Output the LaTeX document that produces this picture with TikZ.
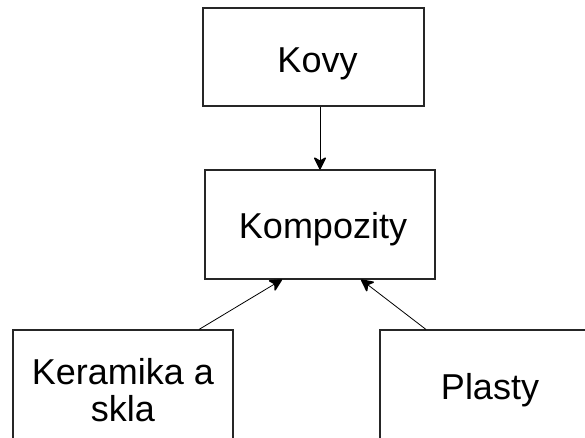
\documentclass[tikz,border=0pt]{standalone}
\usepackage{fontspec}
\setmainfont{Liberation Sans}
\usetikzlibrary{arrows.meta, positioning}

\begin{document}
\begin{tikzpicture}[x=1pt, y=-1pt,
    box/.style={rectangle, draw=black!85, line width=1.1pt, fill=white, align=center,
        font=\fontsize{36}{37}\selectfont, inner sep=0pt},
    link/.style={-{Stealth[length=14pt, width=14pt, inset=4pt, round, line width=1.5pt]}, line width=0.8pt}]

    \clip (0,0) rectangle (585,437);
    \fill[white] (0,0) rectangle (585,437);

    \node [box, minimum width=221pt, minimum height=98pt, text height=30pt, text depth=0pt] (kovy) at (313.5,57) {\hspace*{8pt}Kovy};
    \node [box, minimum width=230pt, minimum height=109pt, text height=27pt, text depth=0pt] (kompozity) at (320,224.5) {\hspace*{6pt}Kompozity};
    \node [box, minimum width=220pt, minimum height=120pt] (keramika) at (123,390) {Keramika a\\skla};
    \node [box, minimum width=220pt, minimum height=120pt] (plasty) at (490,390) {Plasty};

    \draw [link] (kompozity.north |- kovy.south) -- (kompozity.north);
    \draw [link] ([xshift=76pt]keramika.north) -- ([xshift=-38pt]kompozity.south);
    \draw [link] ([xshift=-64pt]plasty.north) -- ([xshift=41pt]kompozity.south);
\end{tikzpicture}
\end{document}
